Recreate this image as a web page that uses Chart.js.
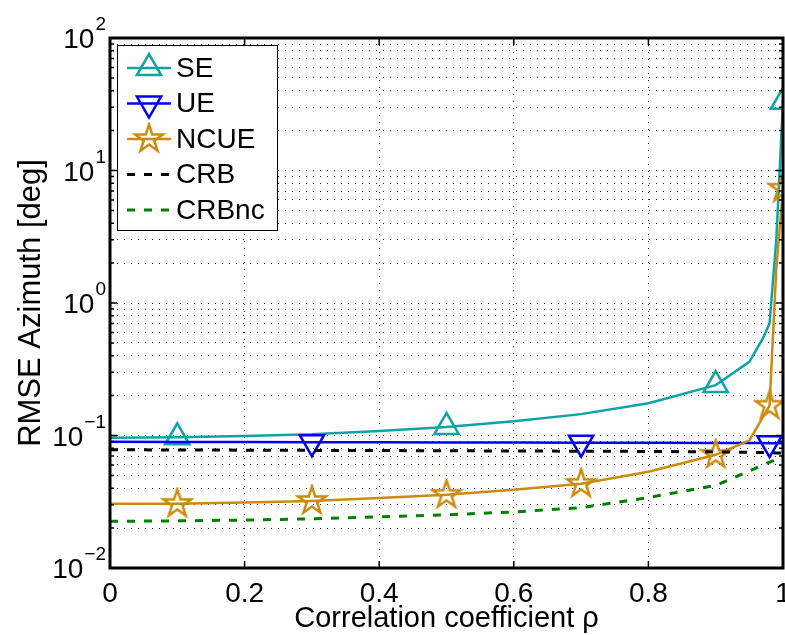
<!DOCTYPE html>
<html>
<head>
<meta charset="utf-8">
<script src="https://cdn.jsdelivr.net/npm/chart.js@4/dist/chart.umd.min.js"></script>
<style>
  html, body { margin: 0; padding: 0; background: #fff; }
  #rmse { display: block; }
</style>
</head>
<body>
<canvas id="rmse" width="785" height="635"></canvas>
<script>
// correlation coefficient values (x)
const rho = [0, 0.1, 0.2, 0.3, 0.4, 0.5, 0.6, 0.7, 0.8, 0.9, 0.95, 0.97, 0.98, 0.99, 1];

// RMSE azimuth [deg]
const seVals    = [0.096, 0.097, 0.099, 0.102, 0.108, 0.116, 0.128, 0.145, 0.175, 0.24, 0.36, 0.54, 0.70, 3.0, 33];
const ueVals    = [0.0897, 0.0895, 0.0893, 0.0891, 0.0889, 0.0887, 0.0885, 0.0883, 0.0881, 0.0879, 0.0877, 0.0876, 0.0875, 0.0874, 0.0873];
const ncueVals  = [0.0305, 0.0305, 0.0312, 0.0321, 0.0337, 0.0357, 0.039, 0.0432, 0.0532, 0.0715, 0.092, 0.137, 0.168, 1.8, 7.3];
const crbVals   = [0.078, 0.0778, 0.0775, 0.0772, 0.077, 0.0767, 0.0764, 0.0761, 0.0758, 0.0752, 0.0747, 0.0743, 0.0741, 0.0738, 0.0736];
const crbncVals = [0.0225, 0.0227, 0.023, 0.0235, 0.0243, 0.0252, 0.0265, 0.0285, 0.034, 0.042, 0.054, 0.06, 0.063, 0.066, 0.068];

// where the markers sit on each curve
const seMarks   = [0.1, 0.5, 0.9, 1];
const ueMarks   = [0.3, 0.7, 0.98];
const ncueMarks = [0.1, 0.3, 0.5, 0.7, 0.9, 0.98, 1];

// axis ticks
const xTicks = [0, 0.2, 0.4, 0.6, 0.8, 1];
const yDecades = [-2, -1, 0, 1, 2];

const FONT = '"Liberation Sans", Arial, Helvetica, sans-serif';
const cyan = '#0fa3a3', blue = '#0000ff', orange = '#cc8a0e', green = '#008000';

// hollow pentagram used for NCUE
function makeStar(color) {
  const c = document.createElement('canvas');
  c.width = 34; c.height = 34;
  const g = c.getContext('2d');
  const R = 14.5, r = R * 0.382;
  g.beginPath();
  for (let k = 0; k < 10; k++) {
    const a = -Math.PI / 2 + k * Math.PI / 5;
    const rad = k % 2 === 0 ? R : r;
    const px = 17 + rad * Math.cos(a), py = 17 + rad * Math.sin(a);
    if (k === 0) g.moveTo(px, py); else g.lineTo(px, py);
  }
  g.closePath();
  g.strokeStyle = color;
  g.lineWidth = 2.5;
  g.lineJoin = 'miter';
  g.stroke();
  return c;
}
const starImg = makeStar(orange);

const pts = vals => rho.map((x, i) => ({ x: x, y: vals[i] }));
const markAt = (list, size) => ctx => {
  const x = rho[ctx.dataIndex];
  return list.some(m => Math.abs(m - x) < 1e-9) ? size : 0;
};

// y ticks: decades plus 2..9 for the minor grid
const yTickValues = [];
yDecades.forEach(d => {
  for (let m = 1; m <= 9; m++) {
    if (d === 2 && m > 1) break;
    yTickValues.push(m * Math.pow(10, d));
  }
});

const legendRows = [
  { label: 'SE',    color: cyan,   dash: [],     style: 'triangle', rot: 0 },
  { label: 'UE',    color: blue,   dash: [],     style: 'triangle', rot: 180 },
  { label: 'NCUE',  color: orange, dash: [],     style: starImg,    rot: 0 },
  { label: 'CRB',   color: '#000', dash: [8, 9], style: null },
  { label: 'CRBnc', color: green,  dash: [8, 9], style: null },
];

const matlabAxes = {
  id: 'matlabAxes',
  afterDatasetsDraw(chart) {
    const ctx = chart.ctx, a = chart.chartArea;
    const xs = chart.scales.x, ys = chart.scales.y;
    ctx.save();
    ctx.strokeStyle = '#000';
    ctx.lineWidth = 1.5;
    ctx.setLineDash([]);
    // inner ticks
    ctx.beginPath();
    xTicks.forEach(v => {
      const px = xs.getPixelForValue(v);
      ctx.moveTo(px, a.bottom); ctx.lineTo(px, a.bottom - 7);
      ctx.moveTo(px, a.top); ctx.lineTo(px, a.top + 7);
    });
    yTickValues.forEach(v => {
      const py = ys.getPixelForValue(v);
      const major = Math.abs(Math.log10(v) - Math.round(Math.log10(v))) < 1e-9;
      const len = major ? 7 : 4;
      ctx.moveTo(a.left, py); ctx.lineTo(a.left + len, py);
      ctx.moveTo(a.right, py); ctx.lineTo(a.right - len, py);
    });
    ctx.stroke();
    // box
    ctx.lineWidth = 3;
    ctx.strokeRect(a.left, a.top, a.right - a.left, a.bottom - a.top);

    // x tick labels
    ctx.fillStyle = '#000';
    ctx.font = '28px ' + FONT;
    ctx.textAlign = 'center';
    ctx.textBaseline = 'alphabetic';
    xTicks.forEach(v => {
      ctx.fillText(String(v), xs.getPixelForValue(v), 602);
    });
    // y tick labels 10^n
    yDecades.forEach(d => {
      const py = ys.getPixelForValue(Math.pow(10, d));
      const ex = d < 0 ? '\u2212' + Math.abs(d) : String(d);
      ctx.font = '19px ' + FONT;
      const ew = ctx.measureText(ex).width;
      ctx.textAlign = 'right';
      ctx.fillText(ex, 106, py - 8);
      ctx.font = '28px ' + FONT;
      ctx.fillText('10', 106 - ew - 1, py + 10);
    });
    // axis titles
    ctx.font = '29px ' + FONT;
    ctx.textAlign = 'center';
    ctx.fillText('Correlation coefficient \u03c1', (a.left + a.right) / 2, 627);
    ctx.save();
    ctx.font = '31px ' + FONT;
    ctx.translate(40, (a.top + a.bottom) / 2);
    ctx.rotate(-Math.PI / 2);
    ctx.fillText('RMSE Azimuth [deg]', 0, 0);
    ctx.restore();

    // legend
    const bx = 117, by = 45, bw = 160, bh = 185;
    ctx.fillStyle = '#fff';
    ctx.fillRect(bx, by, bw, bh);
    ctx.lineWidth = 1;
    ctx.strokeStyle = '#000';
    ctx.strokeRect(bx + 0.5, by + 0.5, bw, bh);
    legendRows.forEach((row, i) => {
      const cy = 68 + i * 35.5;
      ctx.strokeStyle = row.color;
      ctx.lineWidth = row.dash.length ? 3 : 2.5;
      ctx.setLineDash(row.dash);
      ctx.beginPath();
      ctx.moveTo(127, cy); ctx.lineTo(171, cy);
      ctx.stroke();
      ctx.setLineDash([]);
      if (row.style) {
        ctx.fillStyle = 'rgba(0,0,0,0)';
        Chart.helpers.drawPoint(ctx, {
          pointStyle: row.style, radius: 14, rotation: row.rot, borderWidth: 2.5
        }, 149, cy);
      }
      ctx.fillStyle = '#000';
      ctx.font = '28px ' + FONT;
      ctx.textAlign = 'left';
      ctx.textBaseline = 'middle';
      ctx.fillText(row.label, 176, cy + 1);
      ctx.textBaseline = 'alphabetic';
    });
    ctx.restore();
  }
};

const gridOpts = { color: '#222', lineWidth: 1, drawTicks: false };
const borderOpts = { display: false, dash: [1, 6] };

new Chart(document.getElementById('rmse'), {
  type: 'line',
  data: {
    datasets: [
      {
        label: 'SE', data: pts(seVals), borderColor: cyan, borderWidth: 2.5,
        pointStyle: 'triangle', pointRadius: markAt(seMarks, 14), pointBorderWidth: 2.5,
        pointBorderColor: cyan, pointBackgroundColor: 'rgba(0,0,0,0)', order: 5,
      },
      {
        label: 'UE', data: pts(ueVals), borderColor: blue, borderWidth: 2.5,
        pointStyle: 'triangle', pointRotation: 180, pointRadius: markAt(ueMarks, 14), pointBorderWidth: 2.5,
        pointBorderColor: blue, pointBackgroundColor: 'rgba(0,0,0,0)', order: 4,
      },
      {
        label: 'NCUE', data: pts(ncueVals), borderColor: orange, borderWidth: 2.5,
        pointStyle: starImg, pointRadius: markAt(ncueMarks, 14), order: 3,
      },
      {
        label: 'CRB', data: pts(crbVals), borderColor: '#000', borderWidth: 3,
        borderDash: [8, 9], pointRadius: 0, order: 2,
      },
      {
        label: 'CRBnc', data: pts(crbncVals), borderColor: green, borderWidth: 3,
        borderDash: [8, 9], pointRadius: 0, order: 1,
      },
    ],
  },
  options: {
    responsive: false,
    animation: false,
    devicePixelRatio: 1,
    layout: { autoPadding: false, padding: { left: 110, top: 38, right: 2, bottom: 67 } },
    plugins: { legend: { display: false }, tooltip: { enabled: false } },
    scales: {
      x: {
        type: 'linear', min: 0, max: 1,
        ticks: { display: false, stepSize: 0.2 },
        grid: gridOpts, border: borderOpts,
      },
      y: {
        type: 'logarithmic', min: 0.01, max: 100,
        ticks: { display: false },
        afterBuildTicks: s => { s.ticks = yTickValues.map(v => ({ value: v })); },
        grid: gridOpts, border: borderOpts,
      },
    },
  },
  plugins: [matlabAxes],
});
</script>
</body>
</html>
